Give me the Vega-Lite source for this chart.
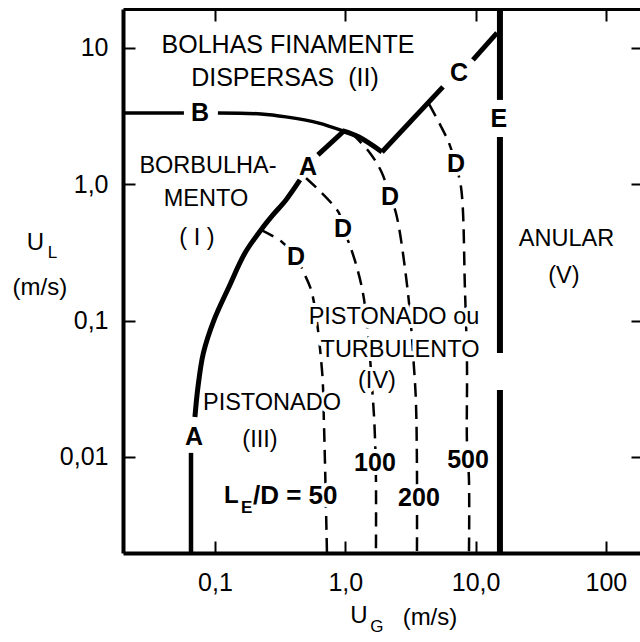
{
  "$schema": "https://vega.github.io/schema/vega-lite/v6.json",
  "width": 517,
  "height": 544,
  "autosize": {"type": "none"},
  "padding": {"left": 123, "top": 9, "right": 0, "bottom": 89},
  "background": "white",
  "config": {
    "view": {"stroke": null},
    "axis": {"grid": false, "labelFont": "Liberation Sans", "labelColor": "black", "tickColor": "black", "domainColor": "black", "labelFlush": false, "labelOverlap": false, "title": null},
    "text": {"font": "Liberation Sans", "color": "black"}
  },
  "datasets": {
    "lines": [
      {"id": "B1a", "i": 0, "ug": 0.0197, "ul": 3.33},
      {"id": "B1a", "i": 1, "ug": 0.0578, "ul": 3.33},
      {"id": "B1b", "i": 0, "ug": 0.1054, "ul": 3.33},
      {"id": "B1b", "i": 1, "ug": 0.2255, "ul": 3.28},
      {"id": "B1b", "i": 2, "ug": 0.3508, "ul": 3.12},
      {"id": "B1b", "i": 3, "ug": 0.617, "ul": 2.82},
      {"id": "B1b", "i": 4, "ug": 0.96, "ul": 2.46},
      {"id": "B2", "i": 0, "ug": 0.96, "ul": 2.46},
      {"id": "B2", "i": 1, "ug": 1.274, "ul": 2.22},
      {"id": "B2", "i": 2, "ug": 1.913, "ul": 1.726},
      {"id": "C1", "i": 0, "ug": 1.913, "ul": 1.726},
      {"id": "C1", "i": 1, "ug": 5.62, "ul": 5.18},
      {"id": "C2", "i": 0, "ug": 9.55, "ul": 8.16},
      {"id": "C2", "i": 1, "ug": 14.6, "ul": 12.9},
      {"id": "A1", "i": 0, "ug": 0.995, "ul": 2.5},
      {"id": "A1", "i": 1, "ug": 0.617, "ul": 1.64},
      {"id": "A2", "i": 0, "ug": 0.449, "ul": 1.075},
      {"id": "A2", "i": 1, "ug": 0.3508, "ul": 0.767},
      {"id": "A2", "i": 2, "ug": 0.2786, "ul": 0.5954},
      {"id": "A2", "i": 3, "ug": 0.2255, "ul": 0.4624},
      {"id": "A2", "i": 4, "ug": 0.17, "ul": 0.313},
      {"id": "A2", "i": 5, "ug": 0.128, "ul": 0.1764},
      {"id": "A2", "i": 6, "ug": 0.098, "ul": 0.1},
      {"id": "A2", "i": 7, "ug": 0.0815, "ul": 0.0578},
      {"id": "A2", "i": 8, "ug": 0.0741, "ul": 0.0326},
      {"id": "A2", "i": 9, "ug": 0.0702, "ul": 0.0196},
      {"id": "A3", "i": 0, "ug": 0.0655, "ul": 0.0107},
      {"id": "A3", "i": 1, "ug": 0.0655, "ul": 0.00197},
      {"id": "E1", "i": 0, "ug": 15.38, "ul": 19.3},
      {"id": "E1", "i": 1, "ug": 15.38, "ul": 4.155},
      {"id": "E2", "i": 0, "ug": 15.38, "ul": 2.223},
      {"id": "E2", "i": 1, "ug": 15.38, "ul": 0.0578},
      {"id": "E3", "i": 0, "ug": 15.38, "ul": 0.031},
      {"id": "E3", "i": 1, "ug": 15.38, "ul": 0.00197},
      {"id": "D1", "i": 0, "ug": 0.2255, "ul": 0.4624},
      {"id": "D1", "i": 1, "ug": 0.3266, "ul": 0.3773},
      {"id": "D1", "i": 2, "ug": 0.4183, "ul": 0.2928},
      {"id": "D1", "i": 3, "ug": 0.482, "ul": 0.2234},
      {"id": "D1", "i": 4, "ug": 0.555, "ul": 0.1594},
      {"id": "D1", "i": 5, "ug": 0.6627, "ul": 0.04342},
      {"id": "D1", "i": 6, "ug": 0.686, "ul": 0.01774},
      {"id": "D1", "i": 7, "ug": 0.698, "ul": 0.0095},
      {"id": "D1", "i": 8, "ug": 0.7238, "ul": 0.00197},
      {"id": "D2", "i": 0, "ug": 0.4993, "ul": 1.112},
      {"id": "D2", "i": 1, "ug": 0.8946, "ul": 0.6159},
      {"id": "D2", "i": 2, "ug": 0.96, "ul": 0.4623},
      {"id": "D2", "i": 3, "ug": 1.068, "ul": 0.3709},
      {"id": "D2", "i": 4, "ug": 1.367, "ul": 0.1594},
      {"id": "D2", "i": 5, "ug": 1.632, "ul": 0.02615},
      {"id": "D2", "i": 6, "ug": 1.69, "ul": 0.014},
      {"id": "D2", "i": 7, "ug": 1.72, "ul": 0.00677},
      {"id": "D2", "i": 8, "ug": 1.72, "ul": 0.00197},
      {"id": "D3", "i": 0, "ug": 1.12, "ul": 2.37},
      {"id": "D3", "i": 1, "ug": 1.547, "ul": 1.697},
      {"id": "D3", "i": 2, "ug": 1.913, "ul": 1.21},
      {"id": "D3", "i": 3, "ug": 2.203, "ul": 0.807},
      {"id": "D3", "i": 4, "ug": 2.449, "ul": 0.6159},
      {"id": "D3", "i": 5, "ug": 3.028, "ul": 0.1594},
      {"id": "D3", "i": 6, "ug": 3.366, "ul": 0.04566},
      {"id": "D3", "i": 7, "ug": 3.488, "ul": 0.02486},
      {"id": "D3", "i": 8, "ug": 3.55, "ul": 0.00802},
      {"id": "D3", "i": 9, "ug": 3.55, "ul": 0.00197},
      {"id": "D4", "i": 0, "ug": 4.387, "ul": 3.88},
      {"id": "D4", "i": 1, "ug": 6.25, "ul": 2.01},
      {"id": "D4", "i": 2, "ug": 6.95, "ul": 1.433},
      {"id": "D4", "i": 3, "ug": 7.73, "ul": 0.955},
      {"id": "D4", "i": 4, "ug": 8.29, "ul": 0.1677},
      {"id": "D4", "i": 5, "ug": 8.59, "ul": 0.0489},
      {"id": "D4", "i": 6, "ug": 8.59, "ul": 0.01265},
      {"id": "D4", "i": 7, "ug": 8.9, "ul": 0.00677},
      {"id": "D4", "i": 8, "ug": 8.9, "ul": 0.00197}
    ],
    "regionsBig": [
      {"t": "BOLHAS FINAMENTE", "ug": 0.3633, "ul": 10.52},
      {"t": "DISPERSAS\u00a0 (II)", "ug": 0.3445, "ul": 6.026}
    ],
    "regions": [
      {"t": "BORBULHA-", "ug": 0.0884, "ul": 1.363},
      {"t": "MENTO", "ug": 0.0853, "ul": 0.78},
      {"t": "( I )", "ug": 0.0727, "ul": 0.4036},
      {"t": "ANULAR", "ug": 49.85, "ul": 0.397},
      {"t": "(V)", "ug": 47.6, "ul": 0.2124},
      {"t": "PISTONADO ou", "ug": 2.365, "ul": 0.1063},
      {"t": "TURBULENTO", "ug": 2.63, "ul": 0.0612},
      {"t": "(IV)", "ug": 1.751, "ul": 0.036},
      {"t": "PISTONADO", "ug": 0.2738, "ul": 0.02486},
      {"t": "(III)", "ug": 0.2215, "ul": 0.0133}
    ],
    "bold": [
      {"t": "B", "ug": 0.0767, "ul": 3.33},
      {"t": "A", "ug": 0.518, "ul": 1.34},
      {"t": "A", "ug": 0.069, "ul": 0.014},
      {"t": "C", "ug": 7.46, "ul": 6.56},
      {"t": "E", "ug": 15.1, "ul": 3.013},
      {"t": "D", "ug": 0.4183, "ul": 0.2928},
      {"t": "D", "ug": 0.96, "ul": 0.4698},
      {"t": "D", "ug": 2.203, "ul": 0.8},
      {"t": "D", "ug": 7.07, "ul": 1.41},
      {"t": "100", "ug": 1.69, "ul": 0.009022},
      {"t": "200", "ug": 3.678, "ul": 0.004995},
      {"t": "500", "ug": 8.745, "ul": 0.0095}
    ],
    "boldLeft": [
      {"t": "L", "ug": 0.1172, "ul": 0.005164}
    ],
    "boldLeft2": [
      {"t": "/D = 50", "ug": 0.1957, "ul": 0.005164}
    ],
    "boldSub": [
      {"t": "E", "ug": 0.1583, "ul": 0.00425}
    ],
    "titles": [
      {"t": "U", "ug": 0.004192, "ul": 0.3709},
      {"t": "(m/s)", "ug": 0.004539, "ul": 0.1735},
      {"t": "U", "ug": 1.274, "ul": 0.000681},
      {"t": "(m/s)", "ug": 4.467, "ul": 0.000658}
    ],
    "titleSub": [
      {"t": "L", "ug": 0.005662, "ul": 0.3133},
      {"t": "G", "ug": 1.751, "ul": 0.000565}
    ]
  },
  "layer": [
    {
      "data": {"name": "lines"},
      "transform": [{"filter": "datum.id == 'B1a' || datum.id == 'B1b'"}],
      "mark": {"type": "line", "color": "black", "strokeWidth": 3.5, "interpolate": "catmull-rom"},
      "encoding": {
        "x": {"field": "ug", "type": "quantitative", "scale": {"type": "log", "domain": [0.0197, 182.7], "nice": false},
          "axis": {"orient": "bottom", "values": [0.1, 1, 10, 100], "labelExpr": "datum.value == 0.1 ? '0,1' : datum.value == 1 ? '1,0' : datum.value == 10 ? '10,0' : '100'", "labelFontSize": 25, "tickSize": -12, "tickWidth": 2, "domainWidth": 4, "labelPadding": 29}},
        "y": {"field": "ul", "type": "quantitative", "scale": {"type": "log", "domain": [0.001972, 19.3], "nice": false},
          "axis": {"orient": "left", "values": [0.01, 0.1, 1, 10], "labelExpr": "datum.value == 10 ? '10' : datum.value == 1 ? '1,0' : datum.value == 0.1 ? '0,1' : '0,01'", "labelFontSize": 25, "tickSize": -12, "tickWidth": 2, "domainWidth": 4, "labelPadding": 27}},
        "detail": {"field": "id"},
        "order": {"field": "i"}
      }
    },
    {
      "data": {"name": "lines"},
      "transform": [{"filter": "datum.id == 'B2' || datum.id == 'C1' || datum.id == 'C2' || datum.id == 'A1' || datum.id == 'A2'"}],
      "mark": {"type": "line", "color": "black", "strokeWidth": 5, "strokeJoin": "round", "interpolate": "catmull-rom"},
      "encoding": {
        "x": {"field": "ug", "type": "quantitative", "scale": {"type": "log", "domain": [0.0197, 182.7], "nice": false},
          "axis": {"orient": "top", "values": [0.1, 1, 10, 100], "labels": false, "tickSize": -12, "tickWidth": 2, "domainWidth": 3}},
        "y": {"field": "ul", "type": "quantitative", "scale": {"type": "log", "domain": [0.001972, 19.3], "nice": false},
          "axis": {"orient": "right", "values": [0.01, 0.1, 1, 10], "labels": false, "domain": false, "tickSize": -9, "tickWidth": 2}},
        "detail": {"field": "id"},
        "order": {"field": "i"}
      }
    },
    {
      "data": {"name": "lines"},
      "transform": [{"filter": "datum.id == 'A3'"}],
      "mark": {"type": "line", "color": "black", "strokeWidth": 4.5},
      "encoding": {
        "x": {"field": "ug", "type": "quantitative", "scale": {"type": "log", "domain": [0.0197, 182.7], "nice": false}, "axis": null},
        "y": {"field": "ul", "type": "quantitative", "scale": {"type": "log", "domain": [0.001972, 19.3], "nice": false}, "axis": null},
        "detail": {"field": "id"},
        "order": {"field": "i"}
      }
    },
    {
      "data": {"name": "lines"},
      "transform": [{"filter": "datum.id == 'E1' || datum.id == 'E2' || datum.id == 'E3'"}],
      "mark": {"type": "line", "color": "black", "strokeWidth": 6},
      "encoding": {
        "x": {"field": "ug", "type": "quantitative", "scale": {"type": "log", "domain": [0.0197, 182.7], "nice": false}, "axis": null},
        "y": {"field": "ul", "type": "quantitative", "scale": {"type": "log", "domain": [0.001972, 19.3], "nice": false}, "axis": null},
        "detail": {"field": "id"},
        "order": {"field": "i"}
      }
    },
    {
      "data": {"name": "lines"},
      "transform": [{"filter": "datum.id == 'D1' || datum.id == 'D2' || datum.id == 'D3' || datum.id == 'D4'"}],
      "mark": {"type": "line", "color": "black", "strokeWidth": 2.5, "strokeDash": [14, 8], "interpolate": "catmull-rom"},
      "encoding": {
        "x": {"field": "ug", "type": "quantitative", "scale": {"type": "log", "domain": [0.0197, 182.7], "nice": false}, "axis": null},
        "y": {"field": "ul", "type": "quantitative", "scale": {"type": "log", "domain": [0.001972, 19.3], "nice": false}, "axis": null},
        "detail": {"field": "id"},
        "order": {"field": "i"}
      }
    },
    {
      "data": {"name": "regions"},
      "mark": {"type": "text", "fontSize": 23.5, "fill": "white", "stroke": "white", "strokeWidth": 8, "strokeJoin": "round", "align": "center", "baseline": "middle"},
      "encoding": {
        "x": {"field": "ug", "type": "quantitative", "scale": {"type": "log", "domain": [0.0197, 182.7], "nice": false}, "axis": null},
        "y": {"field": "ul", "type": "quantitative", "scale": {"type": "log", "domain": [0.001972, 19.3], "nice": false}, "axis": null},
        "text": {"field": "t"}
      }
    },
    {
      "data": {"name": "bold"},
      "mark": {"type": "text", "fontSize": 25, "fontWeight": "bold", "fill": "white", "stroke": "white", "strokeWidth": 8, "strokeJoin": "round", "align": "center", "baseline": "middle"},
      "encoding": {
        "x": {"field": "ug", "type": "quantitative", "scale": {"type": "log", "domain": [0.0197, 182.7], "nice": false}, "axis": null},
        "y": {"field": "ul", "type": "quantitative", "scale": {"type": "log", "domain": [0.001972, 19.3], "nice": false}, "axis": null},
        "text": {"field": "t"}
      }
    },
    {
      "data": {"name": "boldLeft2"},
      "mark": {"type": "text", "fontSize": 26, "fontWeight": "bold", "fill": "white", "stroke": "white", "strokeWidth": 8, "strokeJoin": "round", "align": "left", "baseline": "middle"},
      "encoding": {
        "x": {"field": "ug", "type": "quantitative", "scale": {"type": "log", "domain": [0.0197, 182.7], "nice": false}, "axis": null},
        "y": {"field": "ul", "type": "quantitative", "scale": {"type": "log", "domain": [0.001972, 19.3], "nice": false}, "axis": null},
        "text": {"field": "t"}
      }
    },
    {
      "data": {"name": "regionsBig"},
      "mark": {"type": "text", "fontSize": 25, "align": "center", "baseline": "middle"},
      "encoding": {
        "x": {"field": "ug", "type": "quantitative", "scale": {"type": "log", "domain": [0.0197, 182.7], "nice": false}, "axis": null},
        "y": {"field": "ul", "type": "quantitative", "scale": {"type": "log", "domain": [0.001972, 19.3], "nice": false}, "axis": null},
        "text": {"field": "t"}
      }
    },
    {
      "data": {"name": "regions"},
      "mark": {"type": "text", "fontSize": 23.5, "align": "center", "baseline": "middle"},
      "encoding": {
        "x": {"field": "ug", "type": "quantitative", "scale": {"type": "log", "domain": [0.0197, 182.7], "nice": false}, "axis": null},
        "y": {"field": "ul", "type": "quantitative", "scale": {"type": "log", "domain": [0.001972, 19.3], "nice": false}, "axis": null},
        "text": {"field": "t"}
      }
    },
    {
      "data": {"name": "bold"},
      "mark": {"type": "text", "fontSize": 25, "fontWeight": "bold", "align": "center", "baseline": "middle"},
      "encoding": {
        "x": {"field": "ug", "type": "quantitative", "scale": {"type": "log", "domain": [0.0197, 182.7], "nice": false}, "axis": null},
        "y": {"field": "ul", "type": "quantitative", "scale": {"type": "log", "domain": [0.001972, 19.3], "nice": false}, "axis": null},
        "text": {"field": "t"}
      }
    },
    {
      "data": {"name": "boldLeft"},
      "mark": {"type": "text", "fontSize": 24, "fontWeight": "bold", "align": "left", "baseline": "middle"},
      "encoding": {
        "x": {"field": "ug", "type": "quantitative", "scale": {"type": "log", "domain": [0.0197, 182.7], "nice": false}, "axis": null},
        "y": {"field": "ul", "type": "quantitative", "scale": {"type": "log", "domain": [0.001972, 19.3], "nice": false}, "axis": null},
        "text": {"field": "t"}
      }
    },
    {
      "data": {"name": "boldLeft2"},
      "mark": {"type": "text", "fontSize": 26, "fontWeight": "bold", "align": "left", "baseline": "middle"},
      "encoding": {
        "x": {"field": "ug", "type": "quantitative", "scale": {"type": "log", "domain": [0.0197, 182.7], "nice": false}, "axis": null},
        "y": {"field": "ul", "type": "quantitative", "scale": {"type": "log", "domain": [0.001972, 19.3], "nice": false}, "axis": null},
        "text": {"field": "t"}
      }
    },
    {
      "data": {"name": "boldSub"},
      "mark": {"type": "text", "fontSize": 17, "fontWeight": "bold", "align": "left", "baseline": "middle"},
      "encoding": {
        "x": {"field": "ug", "type": "quantitative", "scale": {"type": "log", "domain": [0.0197, 182.7], "nice": false}, "axis": null},
        "y": {"field": "ul", "type": "quantitative", "scale": {"type": "log", "domain": [0.001972, 19.3], "nice": false}, "axis": null},
        "text": {"field": "t"}
      }
    },
    {
      "data": {"name": "titles"},
      "mark": {"type": "text", "fontSize": 24, "align": "center", "baseline": "middle"},
      "encoding": {
        "x": {"field": "ug", "type": "quantitative", "scale": {"type": "log", "domain": [0.0197, 182.7], "nice": false}, "axis": null},
        "y": {"field": "ul", "type": "quantitative", "scale": {"type": "log", "domain": [0.001972, 19.3], "nice": false}, "axis": null},
        "text": {"field": "t"}
      }
    },
    {
      "data": {"name": "titleSub"},
      "mark": {"type": "text", "fontSize": 17, "align": "center", "baseline": "middle"},
      "encoding": {
        "x": {"field": "ug", "type": "quantitative", "scale": {"type": "log", "domain": [0.0197, 182.7], "nice": false}, "axis": null},
        "y": {"field": "ul", "type": "quantitative", "scale": {"type": "log", "domain": [0.001972, 19.3], "nice": false}, "axis": null},
        "text": {"field": "t"}
      }
    }
  ],
  "resolve": {"axis": {"x": "independent", "y": "independent"}}
}
